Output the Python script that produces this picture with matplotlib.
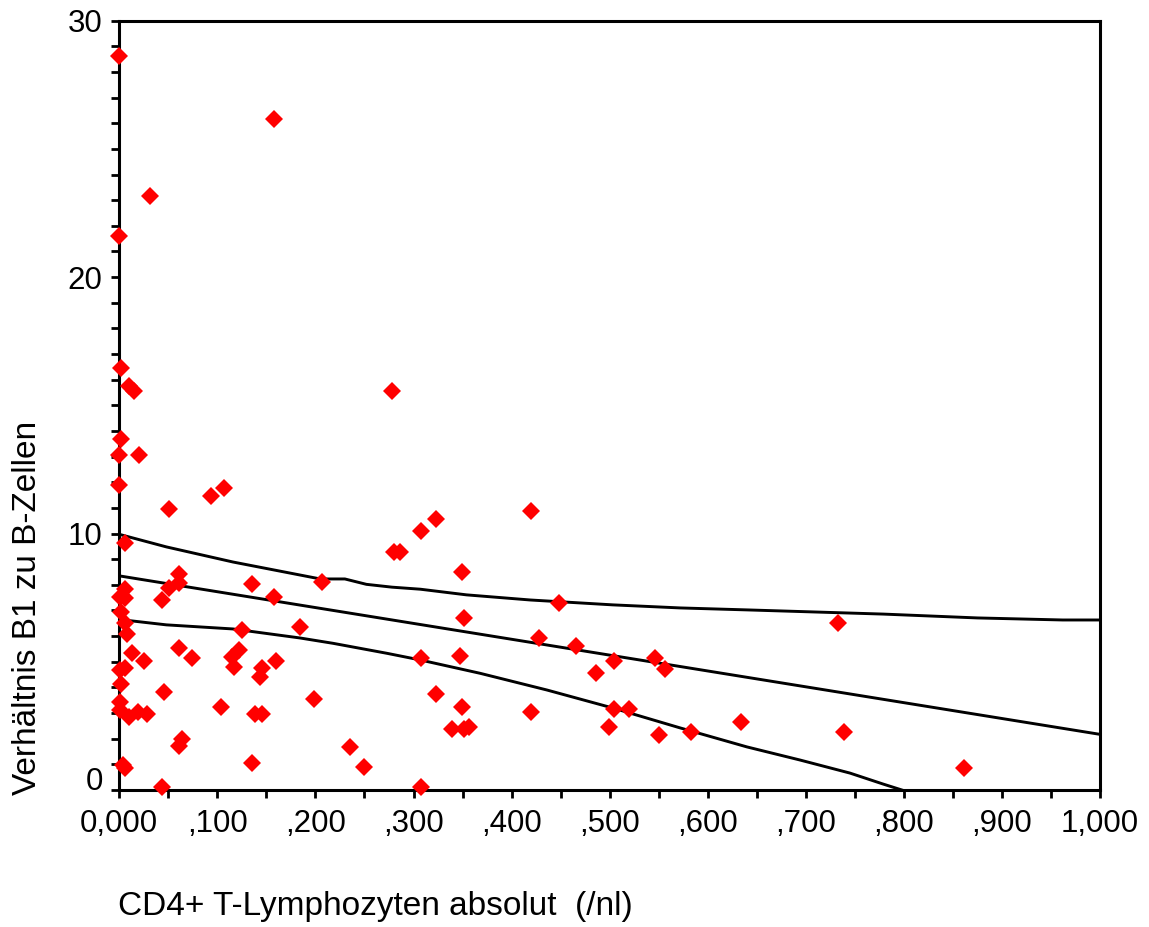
import matplotlib
matplotlib.use("Agg")
import matplotlib.pyplot as plt
import matplotlib.transforms as mtransforms

# CD4+ absolute count (/nl) and B1 / B-cell ratio
cd4 = [0.000, 0.158, 0.031, 0.000, 0.002, 0.010, 0.015, 0.278, 0.002, 0.000,
       0.020, 0.000, 0.051, 0.094, 0.107, 0.280, 0.286, 0.308, 0.323, 0.349,
       0.351, 0.207, 0.308, 0.347, 0.323, 0.349, 0.339, 0.351, 0.357, 0.235,
       0.250, 0.308, 0.420, 0.448, 0.428, 0.466, 0.504, 0.486, 0.546, 0.556,
       0.420, 0.504, 0.520, 0.499, 0.550, 0.583, 0.733, 0.739, 0.861, 0.634,
       0.006, 0.061, 0.061, 0.051, 0.044, 0.006, 0.001, 0.006, 0.002, 0.006,
       0.008, 0.013, 0.025, 0.061, 0.074, 0.006, 0.001, 0.002, 0.046, 0.001,
       0.001, 0.010, 0.019, 0.028, 0.104, 0.064, 0.061, 0.004, 0.006, 0.044,
       0.135, 0.158, 0.125, 0.184, 0.122, 0.115, 0.117, 0.145, 0.143, 0.160,
       0.138, 0.146, 0.199, 0.135]
ratio = [28.64, 26.16, 23.18, 21.61, 16.45, 15.76, 15.56, 15.56, 13.68, 13.07,
         13.07, 11.88, 10.97, 11.48, 11.77, 9.29, 9.29, 10.10, 10.57, 8.51,
         6.72, 8.10, 5.14, 5.24, 3.74, 3.25, 2.37, 2.37, 2.47, 1.67,
         0.89, 0.10, 10.88, 7.31, 5.94, 5.63, 5.03, 4.55, 5.14, 4.72,
         3.05, 3.15, 3.16, 2.47, 2.15, 2.25, 6.53, 2.25, 0.87, 2.64,
         9.65, 8.42, 8.09, 7.89, 7.41, 7.83, 7.52, 7.48, 6.96, 6.53,
         6.08, 5.33, 5.03, 5.53, 5.14, 4.77, 4.68, 4.13, 3.84, 3.44,
         3.12, 2.83, 3.05, 2.96, 3.25, 1.99, 1.73, 0.98, 0.85, 0.10,
         8.02, 7.54, 6.24, 6.35, 5.46, 5.18, 4.81, 4.77, 4.42, 5.04,
         2.96, 2.96, 3.54, 1.06]

# regression line and confidence band
fit_x = [0.0, 1.0]
fit_y = [8.35, 2.17]
upper_x = [0.0, 0.048, 0.116, 0.205, 0.230, 0.252, 0.278, 0.307, 0.354, 0.419,
           0.503, 0.572, 0.643, 0.779, 0.875, 0.962, 1.0]
upper_y = [9.97, 9.48, 8.89, 8.23, 8.23, 8.02, 7.91, 7.83, 7.61, 7.41,
           7.22, 7.10, 7.02, 6.86, 6.71, 6.63, 6.63]
lower_x = [0.0, 0.048, 0.116, 0.184, 0.218, 0.273, 0.307, 0.368, 0.436, 0.503,
           0.572, 0.640, 0.694, 0.745, 0.779, 0.798]
lower_y = [6.65, 6.44, 6.28, 5.93, 5.72, 5.33, 5.07, 4.55, 3.90, 3.20,
           2.42, 1.68, 1.17, 0.66, 0.23, 0.0]

x_ticks = [i * 0.05 for i in range(21)]
x_labels = ["0,000", ",100", ",200", ",300", ",400", ",500", ",600", ",700",
            ",800", ",900", "1,000"]
y_ticks = list(range(31))
y_labels = ["0", "10", "20", "30"]

plt.rcParams["font.family"] = ["Liberation Sans", "DejaVu Sans"]

fig = plt.figure(figsize=(11.49, 9.27), dpi=100)
ax = fig.add_axes([119.3 / 1149, 1 - 790 / 927, (1100 - 119.3) / 1149, (790 - 20.7) / 927])

ax.plot(cd4, ratio, linestyle="none", marker="D", markersize=9,
        markeredgewidth=0, color="#ff0000", zorder=3, clip_on=False)
ax.plot(fit_x, fit_y, color="black", linewidth=2.1, zorder=2)
ax.plot(upper_x, upper_y, color="black", linewidth=2.1, zorder=2)
ax.plot(lower_x, lower_y, color="black", linewidth=2.1, zorder=2)

ax.set_xlim(0, 1.0)
ax.set_ylim(0, 30)

ax.set_xticks(x_ticks)
ax.set_xticklabels([x_labels[i // 2] if i % 2 == 0 else "" for i in range(len(x_ticks))])
ax.set_yticks(y_ticks)
ax.set_yticklabels([y_labels[i // 10] if i % 10 == 0 else "" for i in y_ticks])

ax.tick_params(axis="both", direction="out", length=6, width=2.0,
               labelsize=22.5, colors="black")
ax.tick_params(axis="x", pad=8)
ax.tick_params(axis="y", pad=6)
for sp in ax.spines.values():
    sp.set_linewidth(2.2)

# SPSS style: the "0" label sits a little above the x axis
shift = mtransforms.ScaledTranslation(0, 12 / 100, fig.dpi_scale_trans)
ylab0 = ax.get_yticklabels()[0]
ylab0.set_transform(ylab0.get_transform() + shift)

fig.text(118 / 1149, 1 - 907 / 927, "CD4+ T-Lymphozyten absolut  (/nl)",
         fontsize=24, ha="left", va="center")
fig.text(28 / 1149, 1 - 608 / 927, "Verhältnis B1 zu B-Zellen",
         fontsize=24, rotation=90, ha="center", va="center")

fig.savefig("out.png", dpi=100)
